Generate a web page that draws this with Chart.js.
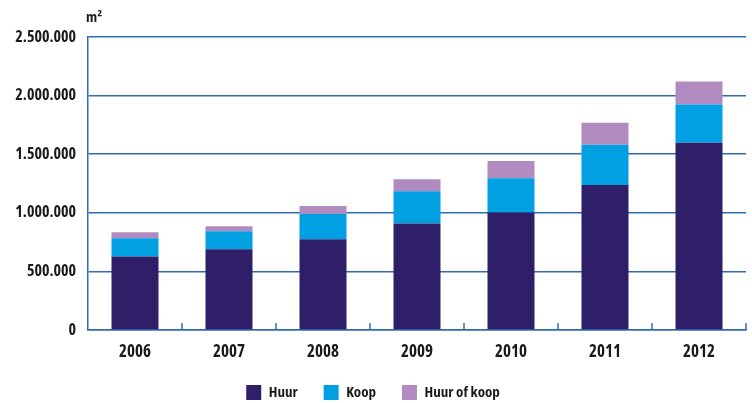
<!DOCTYPE html>
<html>
<head>
<meta charset="utf-8">
<script src="https://cdn.jsdelivr.net/npm/chart.js@4.4.0/dist/chart.umd.min.js"></script>
<style>
  html, body { margin: 0; padding: 0; background: #fff; }
  #wrap { width: 752px; height: 403px; }
</style>
</head>
<body>
<div id="wrap"><canvas id="grafiek"></canvas></div>
<script>
// jaren en oppervlakte (m2) per type
const jaren = ["2006", "2007", "2008", "2009", "2010", "2011", "2012"];
const huur = [628000, 689000, 774000, 909000, 1003000, 1237000, 1598000];
const koop = [155000, 154000, 215000, 274000, 292000, 343000, 325000];
const huurOfKoop = [51000, 43000, 68000, 103000, 146000, 189000, 198000];
const yTicks = [0, 500000, 1000000, 1500000, 2000000, 2500000];

const lettertype = '"Open Sans", "Roboto Condensed", sans-serif';
const smal = "condensed bold"; // gaat als weight mee in de font-string
const blauw = "#2f6cb3";
const tekstKleur = "#1a1a1a";

// streepjes tussen de jaren op de x-as + eenheid boven de as
const extraTekening = {
  id: "extraTekening",
  afterDraw(chart) {
    const ctx = chart.ctx;
    const x = chart.scales.x;
    const area = chart.chartArea;
    ctx.save();
    ctx.strokeStyle = blauw;
    ctx.lineWidth = 1.5;
    for (let i = 1; i <= jaren.length; i++) {
      const px = i < jaren.length
        ? (x.getPixelForTick(i - 1) + x.getPixelForTick(i)) / 2
        : area.right;
      ctx.beginPath();
      ctx.moveTo(px, area.bottom);
      ctx.lineTo(px, area.bottom - 7);
      ctx.stroke();
    }
    ctx.fillStyle = tekstKleur;
    ctx.font = smal + " 15px " + lettertype;
    ctx.textAlign = "left";
    ctx.textBaseline = "alphabetic";
    ctx.fillText("m²", area.left - 2, 22);
    ctx.restore();
  }
};

new Chart(document.getElementById("grafiek"), {
  type: "bar",
  data: {
    labels: jaren,
    datasets: [
      { label: "Huur", data: huur, backgroundColor: "#2e1f68" },
      { label: "Koop", data: koop, backgroundColor: "#00a0e3" },
      { label: "Huur of koop", data: huurOfKoop, backgroundColor: "#b18bbf" }
    ]
  },
  options: {
    responsive: true,
    maintainAspectRatio: false,
    animation: false,
    layout: { padding: { top: 37, right: 6, left: 0, bottom: -7 } },
    datasets: { bar: { barPercentage: 0.5, categoryPercentage: 1 } },
    plugins: {
      tooltip: { enabled: false },
      legend: {
        position: "bottom",
        labels: {
          boxWidth: 15,
          boxHeight: 15,
          padding: 26,
          color: tekstKleur,
          font: { family: lettertype, size: 15, weight: smal }
        }
      }
    },
    scales: {
      x: {
        stacked: true,
        afterFit(scale) { scale.height = 29; },
        grid: { display: false },
        border: { color: blauw, width: 1.5 },
        ticks: {
          color: tekstKleur,
          padding: 4,
          font: { family: lettertype, size: 17, weight: smal }
        }
      },
      y: {
        stacked: true,
        min: 0,
        max: 2500000,
        afterFit(scale) { scale.width = 88; },
        afterBuildTicks(scale) { scale.ticks = yTicks.map(v => ({ value: v })); },
        grid: { color: blauw, lineWidth: 1.5, drawTicks: false },
        border: { color: blauw, width: 1.5 },
        ticks: {
          color: tekstKleur,
          padding: 12,
          font: { family: lettertype, size: 16, weight: smal },
          callback: v => v.toLocaleString("nl-NL")
        }
      }
    }
  },
  plugins: [extraTekening]
});
</script>
</body>
</html>
